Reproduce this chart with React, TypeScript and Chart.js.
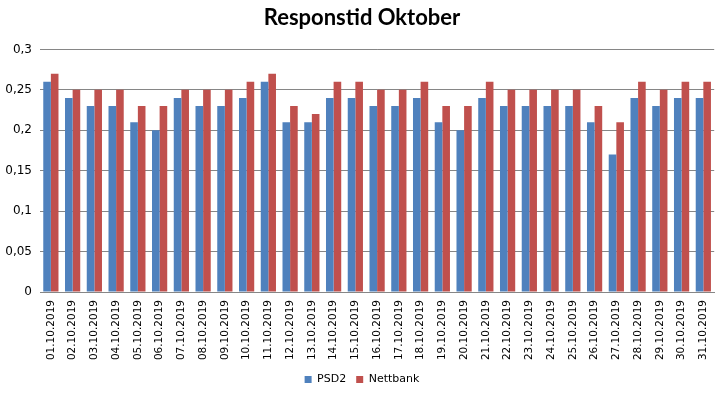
import React, { useEffect, useRef } from "react";
import Chart from "chart.js/auto";

const categories = [
  "01.10.2019","02.10.2019","03.10.2019","04.10.2019","05.10.2019","06.10.2019","07.10.2019","08.10.2019",
  "09.10.2019","10.10.2019","11.10.2019","12.10.2019","13.10.2019","14.10.2019","15.10.2019","16.10.2019",
  "17.10.2019","18.10.2019","19.10.2019","20.10.2019","21.10.2019","22.10.2019","23.10.2019","24.10.2019",
  "25.10.2019","26.10.2019","27.10.2019","28.10.2019","29.10.2019","30.10.2019","31.10.2019",
];
const psd2 = [0.26,0.24,0.23,0.23,0.21,0.20,0.24,0.23,0.23,0.24,0.26,0.21,0.21,0.24,0.24,0.23,0.23,0.24,0.21,0.20,0.24,0.23,0.23,0.23,0.23,0.21,0.17,0.24,0.23,0.24,0.24];
const nettbank = [0.27,0.25,0.25,0.25,0.23,0.23,0.25,0.25,0.25,0.26,0.27,0.23,0.22,0.26,0.26,0.25,0.25,0.26,0.23,0.23,0.26,0.25,0.25,0.25,0.25,0.23,0.21,0.26,0.25,0.26,0.26];
const title = "Responstid Oktober";

export default function App() {
  const ref = useRef<HTMLCanvasElement>(null);
  useEffect(() => {
    document.body.style.margin = "0";
    const chart = new Chart(ref.current!, {
      type: "bar",
      data: {
        labels: categories,
        datasets: [
          { label: "PSD2", data: psd2, backgroundColor: "#4F81BD", categoryPercentage: 0.7, barPercentage: 1 },
          { label: "Nettbank", data: nettbank, backgroundColor: "#C0504D", categoryPercentage: 0.7, barPercentage: 1 },
        ],
      },
      options: {
        animation: false,
        responsive: false,
        layout: { padding: { left: 4, right: 4, top: 4, bottom: 0 } },
        plugins: {
          title: {
            display: true,
            text: title,
            color: "#000",
            font: { family: "Lato", size: 22, weight: "bold" },
            padding: { top: 1, bottom: 18 },
          },
          legend: {
            position: "bottom",
            labels: {
              boxWidth: 7,
              boxHeight: 7,
              color: "#000",
              font: { family: "DejaVu Sans", size: 11 },
              padding: 10,
            },
          },
          tooltip: { enabled: false },
        },
        scales: {
          x: {
            grid: { display: false, drawTicks: false },
            border: { color: "#868686" },
            afterFit: (s: any) => { s.height = 72; },
            ticks: {
              minRotation: 90,
              maxRotation: 90,
              autoSkip: false,
              padding: 8,
              color: "#000",
              font: { family: "DejaVu Sans", size: 10.5 },
            },
          },
          y: {
            min: 0,
            max: 0.3,
            afterFit: (s: any) => { s.width = 36; },
            grid: { color: "#868686", drawTicks: false },
            border: { display: false },
            ticks: {
              stepSize: 0.05,
              padding: 8,
              color: "#000",
              font: { family: "DejaVu Sans", size: 12 },
              callback: (v: any) => Number(Number(v).toFixed(2)).toString().replace(".", ","),
            },
          },
        },
      },
    });
    return () => chart.destroy();
  }, []);
  return (
    <div style={{ width: 724, height: 395 }}>
      <canvas ref={ref} width={724} height={395} />
    </div>
  );
}
